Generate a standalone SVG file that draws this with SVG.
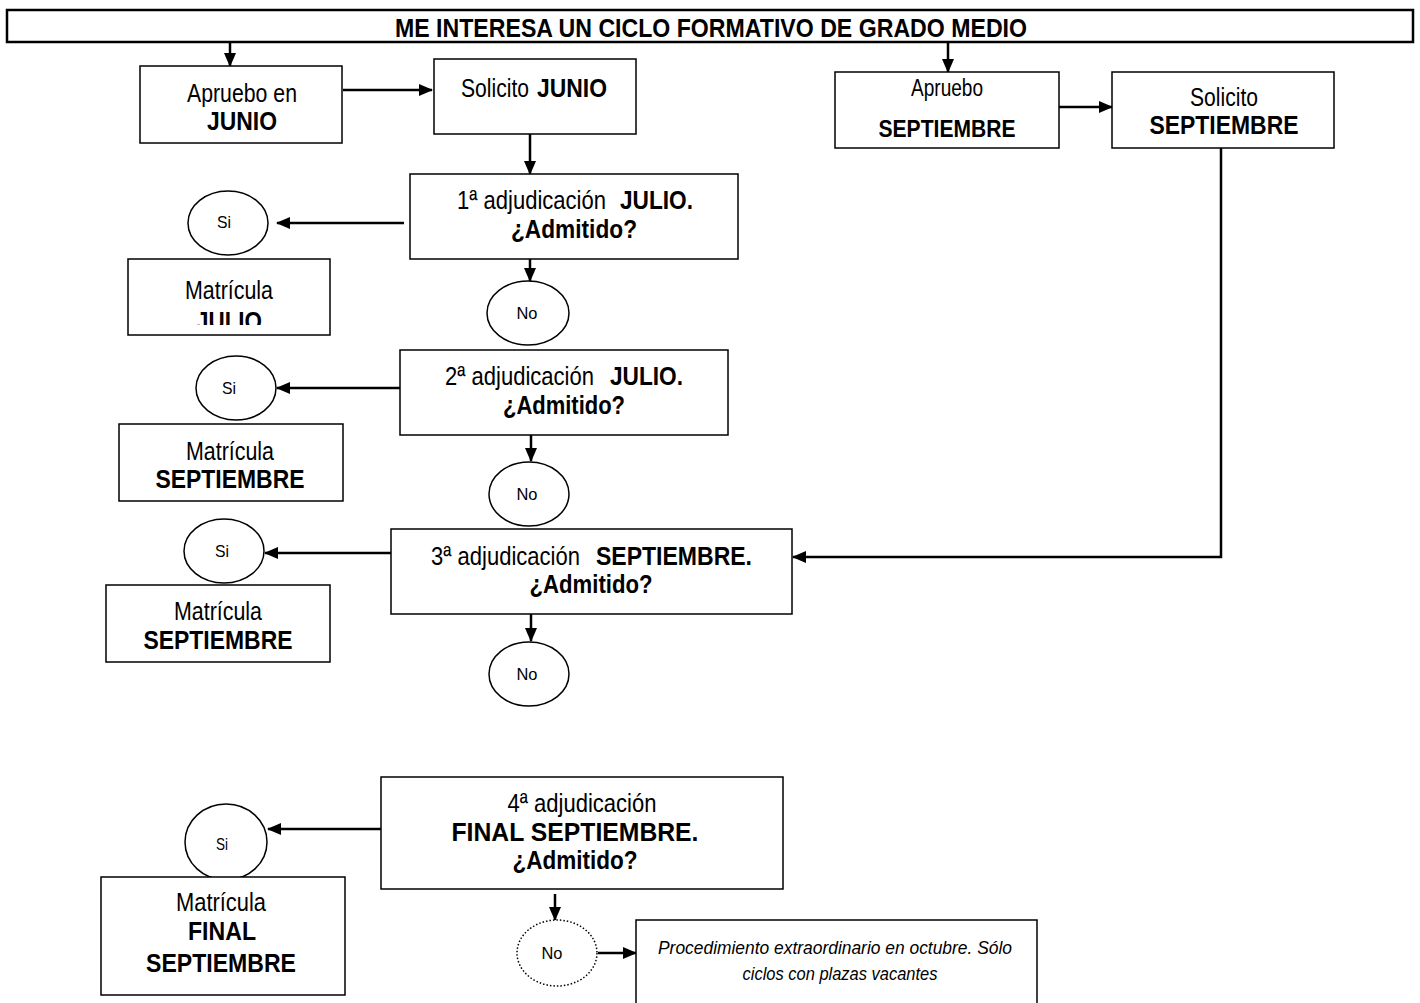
<svg xmlns="http://www.w3.org/2000/svg" width="1420" height="1003" viewBox="0 0 1420 1003">
<style>
.box{fill:#fff;stroke:#000;stroke-width:1.5}
.ell{fill:#fff;stroke:#000;stroke-width:1.5}
.dot{fill:#fff;stroke:#000;stroke-width:1.5;stroke-dasharray:1.5 2}
.t{font-family:"Liberation Sans",Arial,sans-serif;font-size:25px;fill:#000;text-anchor:middle}
.l{text-anchor:start}
.b{font-weight:bold}
.s{font-size:17px}
.i{font-style:italic;font-size:18px}
.c{fill:none;stroke:#000;stroke-width:2.5}
</style>
<defs>
<marker id="ah" markerUnits="userSpaceOnUse" markerWidth="14" markerHeight="14" viewBox="0 0 14 14" refX="13" refY="7" orient="auto">
<path d="M0,1 L14,7 L0,13 Z" fill="#000"/>
</marker>
<clipPath id="clipJ"><rect x="128" y="259" width="202" height="66"/></clipPath>
</defs>

<g id="title">
<rect x="7" y="10" width="1406" height="32" fill="#fff" stroke="#000" stroke-width="2.5"/>
<text class="t b" x="711" y="37" textLength="632" lengthAdjust="spacingAndGlyphs">ME INTERESA UN CICLO FORMATIVO DE GRADO MEDIO</text>
</g>

<g id="connectors">
<line class="c" x1="230" y1="42" x2="230" y2="66" marker-end="url(#ah)"/>
<line class="c" x1="948" y1="42" x2="948" y2="72" marker-end="url(#ah)"/>
<line class="c" x1="343" y1="90" x2="432" y2="90" marker-end="url(#ah)"/>
<line class="c" x1="1059" y1="107" x2="1112" y2="107" marker-end="url(#ah)"/>
<line class="c" x1="530" y1="134" x2="530" y2="174" marker-end="url(#ah)"/>
<line class="c" x1="404" y1="223" x2="277" y2="223" marker-end="url(#ah)"/>
<line class="c" x1="530" y1="259" x2="530" y2="281" marker-end="url(#ah)"/>
<line class="c" x1="400" y1="388" x2="277" y2="388" marker-end="url(#ah)"/>
<line class="c" x1="531" y1="435" x2="531" y2="461" marker-end="url(#ah)"/>
<line class="c" x1="391" y1="553" x2="265" y2="553" marker-end="url(#ah)"/>
<line class="c" x1="531" y1="614" x2="531" y2="641" marker-end="url(#ah)"/>
<polyline class="c" points="1221,148 1221,557 793,557" marker-end="url(#ah)"/>
<line class="c" x1="381" y1="829" x2="268" y2="829" marker-end="url(#ah)"/>
<line class="c" x1="555" y1="894" x2="555" y2="920" marker-end="url(#ah)"/>
<line class="c" x1="598" y1="953" x2="636" y2="953" marker-end="url(#ah)"/>
</g>

<g id="n-aprueboJunio">
<rect class="box" x="140" y="66" width="202" height="77"/>
<text class="t" x="242" y="102" textLength="110" lengthAdjust="spacingAndGlyphs">Apruebo en</text>
<text class="t b" x="242" y="130" textLength="70" lengthAdjust="spacingAndGlyphs">JUNIO</text>
</g>

<g id="n-solicitoJunio">
<rect class="box" x="434" y="59" width="202" height="75"/>
<text class="t l" x="461" y="97" textLength="68" lengthAdjust="spacingAndGlyphs">Solicito</text>
<text class="t l b" x="537" y="97" textLength="70" lengthAdjust="spacingAndGlyphs">JUNIO</text>
</g>

<g id="n-aprueboSept">
<rect class="box" x="835" y="72" width="224" height="76"/>
<text class="t" x="947" y="96" textLength="72" lengthAdjust="spacingAndGlyphs" style="font-size:23px">Apruebo</text>
<text class="t b" x="947" y="137" textLength="137" lengthAdjust="spacingAndGlyphs" style="font-size:23px">SEPTIEMBRE</text>
</g>

<g id="n-solicitoSept">
<rect class="box" x="1112" y="72" width="222" height="76"/>
<text class="t" x="1224" y="106" textLength="68" lengthAdjust="spacingAndGlyphs">Solicito</text>
<text class="t b" x="1224" y="134" textLength="149" lengthAdjust="spacingAndGlyphs">SEPTIEMBRE</text>
</g>

<g id="n-adj1">
<rect class="box" x="410" y="174" width="328" height="85"/>
<text class="t l" x="457" y="209" textLength="149" lengthAdjust="spacingAndGlyphs">1ª adjudicación</text>
<text class="t l b" x="620" y="209" textLength="73" lengthAdjust="spacingAndGlyphs">JULIO.</text>
<text class="t b" x="574" y="238" textLength="126" lengthAdjust="spacingAndGlyphs">¿Admitido?</text>
</g>

<g id="n-si1">
<ellipse class="ell" cx="228" cy="223" rx="40" ry="32"/>
<text class="t s" x="224" y="228" textLength="14" lengthAdjust="spacingAndGlyphs">Si</text>
</g>

<g id="n-matJulio">
<rect class="box" x="128" y="259" width="202" height="76"/>
<text class="t" x="229" y="299" textLength="88" lengthAdjust="spacingAndGlyphs">Matrícula</text>
<text class="t b" x="229" y="330" textLength="66" lengthAdjust="spacingAndGlyphs" clip-path="url(#clipJ)">JULIO</text>
</g>

<g id="n-no1">
<ellipse class="ell" cx="528" cy="313" rx="41" ry="32"/>
<text class="t s" x="527" y="319" textLength="21" lengthAdjust="spacingAndGlyphs">No</text>
</g>

<g id="n-adj2">
<rect class="box" x="400" y="350" width="328" height="85"/>
<text class="t l" x="445" y="385" textLength="149" lengthAdjust="spacingAndGlyphs">2ª adjudicación</text>
<text class="t l b" x="610" y="385" textLength="73" lengthAdjust="spacingAndGlyphs">JULIO.</text>
<text class="t b" x="564" y="414" textLength="122" lengthAdjust="spacingAndGlyphs">¿Admitido?</text>
</g>

<g id="n-si2">
<ellipse class="ell" cx="236" cy="388" rx="40" ry="32"/>
<text class="t s" x="229" y="394" textLength="14" lengthAdjust="spacingAndGlyphs">Si</text>
</g>

<g id="n-mat2">
<rect class="box" x="119" y="424" width="224" height="77"/>
<text class="t" x="230" y="460" textLength="88" lengthAdjust="spacingAndGlyphs">Matrícula</text>
<text class="t b" x="230" y="488" textLength="149" lengthAdjust="spacingAndGlyphs">SEPTIEMBRE</text>
</g>

<g id="n-no2">
<ellipse class="ell" cx="529" cy="494" rx="40" ry="32"/>
<text class="t s" x="527" y="500" textLength="21" lengthAdjust="spacingAndGlyphs">No</text>
</g>

<g id="n-adj3">
<rect class="box" x="391" y="529" width="401" height="85"/>
<text class="t l" x="431" y="565" textLength="149" lengthAdjust="spacingAndGlyphs">3ª adjudicación</text>
<text class="t l b" x="596" y="565" textLength="156" lengthAdjust="spacingAndGlyphs">SEPTIEMBRE.</text>
<text class="t b" x="591" y="593" textLength="123" lengthAdjust="spacingAndGlyphs">¿Admitido?</text>
</g>

<g id="n-si3">
<ellipse class="ell" cx="224" cy="551" rx="40" ry="32"/>
<text class="t s" x="222" y="557" textLength="14" lengthAdjust="spacingAndGlyphs">Si</text>
</g>

<g id="n-mat3">
<rect class="box" x="106" y="585" width="224" height="77"/>
<text class="t" x="218" y="620" textLength="88" lengthAdjust="spacingAndGlyphs">Matrícula</text>
<text class="t b" x="218" y="649" textLength="149" lengthAdjust="spacingAndGlyphs">SEPTIEMBRE</text>
</g>

<g id="n-no3">
<ellipse class="ell" cx="529" cy="674" rx="40" ry="32"/>
<text class="t s" x="527" y="680" textLength="21" lengthAdjust="spacingAndGlyphs">No</text>
</g>

<g id="n-adj4">
<rect class="box" x="381" y="777" width="402" height="112"/>
<text class="t" x="582" y="812" textLength="149" lengthAdjust="spacingAndGlyphs">4ª adjudicación</text>
<text class="t b" x="575" y="841" textLength="247" lengthAdjust="spacingAndGlyphs">FINAL SEPTIEMBRE.</text>
<text class="t b" x="575" y="869" textLength="125" lengthAdjust="spacingAndGlyphs">¿Admitido?</text>
</g>

<g id="n-si4">
<ellipse class="ell" cx="226" cy="842" rx="41" ry="38"/>
<text class="t s" x="222" y="850" textLength="12" lengthAdjust="spacingAndGlyphs">Si</text>
</g>

<g id="n-mat4">
<rect class="box" x="101" y="877" width="244" height="118"/>
<text class="t" x="221" y="911" textLength="90" lengthAdjust="spacingAndGlyphs">Matrícula</text>
<text class="t b" x="222" y="940" textLength="68" lengthAdjust="spacingAndGlyphs">FINAL</text>
<text class="t b" x="221" y="972" textLength="150" lengthAdjust="spacingAndGlyphs">SEPTIEMBRE</text>
</g>

<g id="n-no4">
<ellipse class="dot" cx="557" cy="953" rx="40" ry="33"/>
<text class="t s" x="552" y="959" textLength="21" lengthAdjust="spacingAndGlyphs">No</text>
</g>

<g id="n-extra">
<rect class="box" x="636" y="920" width="401" height="95"/>
<text class="t i" x="835" y="954" textLength="354" lengthAdjust="spacingAndGlyphs">Procedimiento extraordinario en octubre. Sólo</text>
<text class="t i" x="840" y="980" textLength="195" lengthAdjust="spacingAndGlyphs">ciclos con plazas vacantes</text>
</g>
</svg>
